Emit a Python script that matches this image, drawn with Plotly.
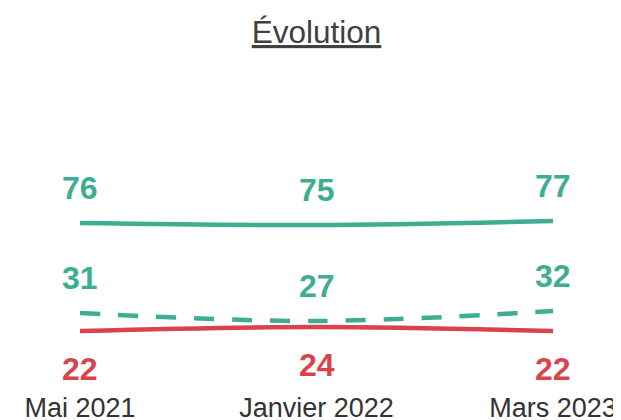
import plotly.graph_objects as go

categories = ["Mai 2021", "Janvier 2022", "Mars 2023"]
green_solid = [76, 75, 77]
green_dashed = [31, 27, 32]
red_solid = [22, 24, 22]

GREEN = "rgb(61,174,145)"
RED = "rgb(217,67,76)"
FONT = "Liberation Sans, Arial, sans-serif"

fig = go.Figure()
series = [
    (green_solid, GREEN, "solid", 35),
    (green_dashed, GREEN, "20px,18px", 35),
    (red_solid, RED, "solid", -38),
]
xs = [0, 1, 2]
for vals, col, dash, shift in series:
    fig.add_trace(go.Scatter(x=xs, y=vals, mode="lines",
                             line=dict(color=col, width=4.5, dash=dash, shape="spline"),
                             hoverinfo="skip", showlegend=False))
    for xi, v in zip(xs, vals):
        fig.add_annotation(x=xi, y=v, xref="x", yref="y", text=f"<b>{v}</b>",
                           showarrow=False, yshift=shift,
                           font=dict(family=FONT, size=32, color=col))

fig.update_layout(
    width=621, height=420,
    margin=dict(l=72, r=76, t=167, b=53),
    paper_bgcolor="white", plot_bgcolor="white",
    title=dict(text="<u>Évolution</u>", x=0.5, xanchor="center", xref="paper",
               y=1 - 24 / 420, yref="container", yanchor="middle",
               font=dict(family=FONT, size=31.5, color="#404040")),
    xaxis=dict(range=[0, 2], tickmode="array", tickvals=xs, ticktext=categories,
               showgrid=False, zeroline=False, showline=False,
               tickfont=dict(family=FONT, size=27, color="#333333"),
               ticklabelstandoff=14, automargin=False),
    yaxis=dict(range=[0, 100], visible=False, automargin=False),
)

fig.write_html("out.html")
